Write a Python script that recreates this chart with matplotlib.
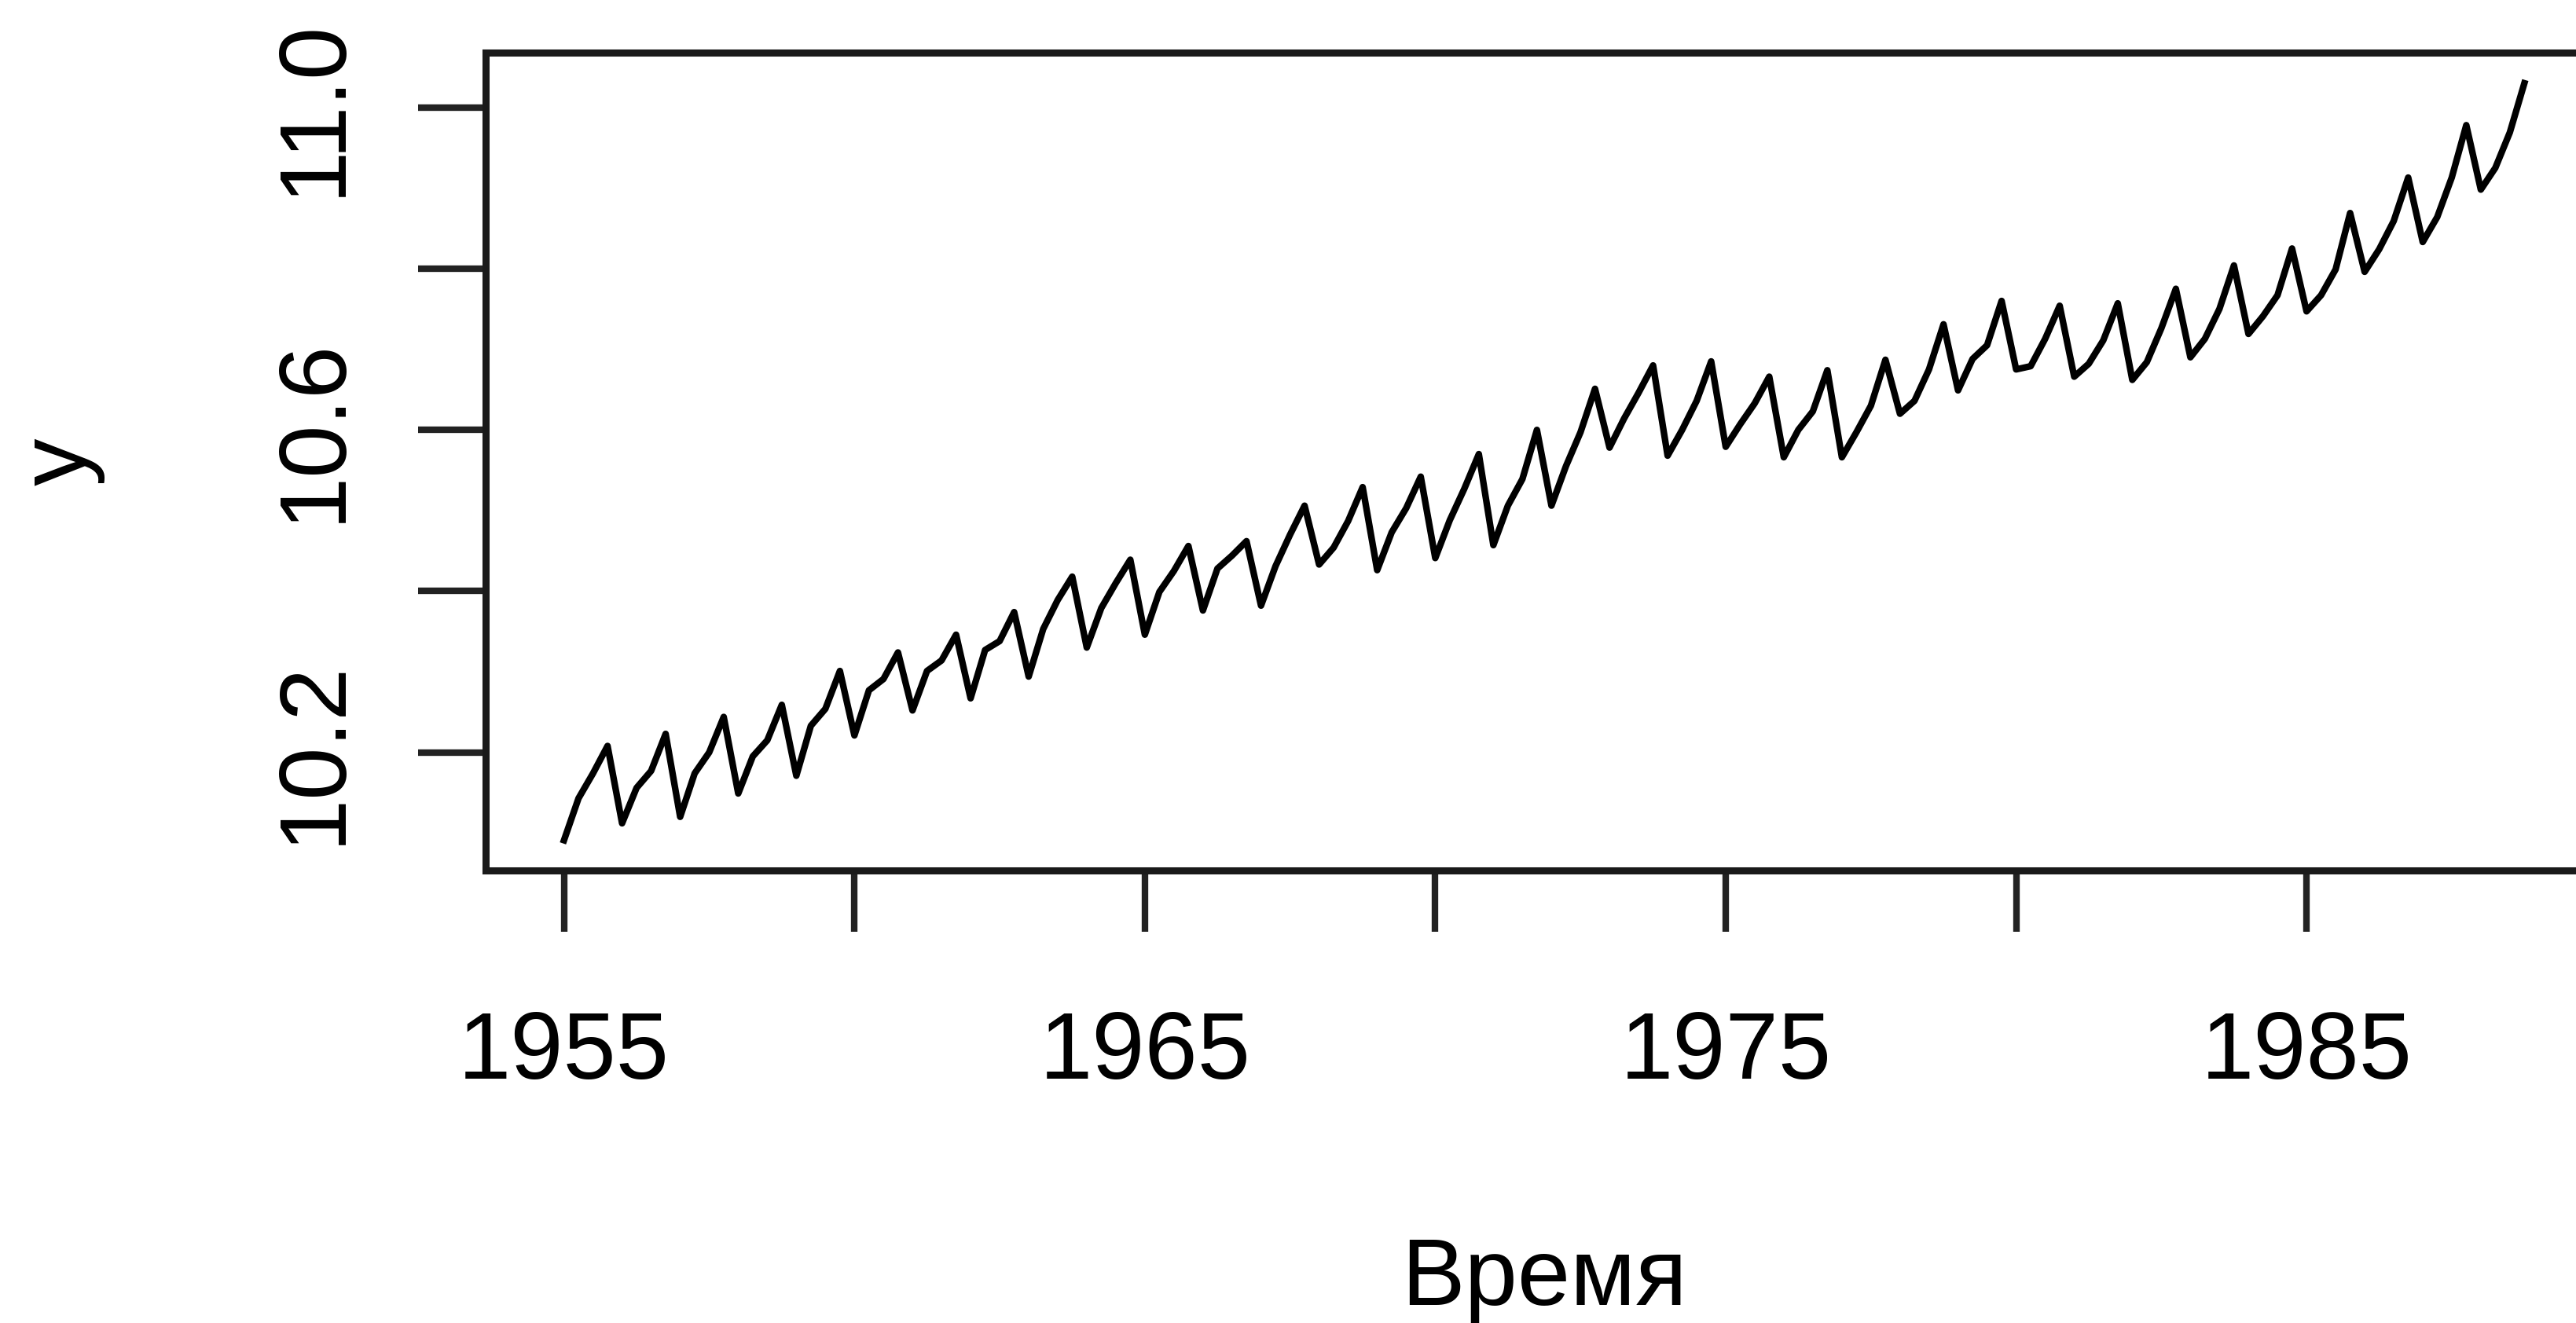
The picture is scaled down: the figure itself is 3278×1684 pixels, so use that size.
# Квартальный ряд y (лог.), 1955-1988, в стиле графика R plot(ts)
import numpy as np
import matplotlib
matplotlib.use("Agg")
import matplotlib.pyplot as plt

plt.rcParams['font.family'] = ['Liberation Sans', 'DejaVu Sans']

start_year = 1955
quarters_per_year = 4

# значения по кварталам, одна строка = один год (Q1..Q4)
y_values = [
    10.091, 10.143, 10.174, 10.208,  # 1955
    10.112, 10.156, 10.177, 10.223,  # 1956
    10.120, 10.174, 10.200, 10.244,  # 1957
    10.149, 10.195, 10.215, 10.259,  # 1958
    10.171, 10.233, 10.254, 10.301,  # 1959
    10.221, 10.277, 10.291, 10.324,  # 1960
    10.252, 10.301, 10.314, 10.346,  # 1961
    10.267, 10.327, 10.338, 10.374,  # 1962
    10.294, 10.353, 10.389, 10.418,  # 1963
    10.330, 10.379, 10.410, 10.439,  # 1964
    10.346, 10.399, 10.425, 10.456,  # 1965
    10.376, 10.428, 10.444, 10.462,  # 1966
    10.382, 10.431, 10.470, 10.506,  # 1967
    10.433, 10.454, 10.487, 10.529,  # 1968
    10.426, 10.473, 10.503, 10.542,  # 1969
    10.441, 10.488, 10.527, 10.570,  # 1970
    10.457, 10.506, 10.539, 10.600,  # 1971
    10.506, 10.555, 10.597, 10.651,  # 1972
    10.578, 10.614, 10.646, 10.680,  # 1973
    10.568, 10.600, 10.636, 10.685,  # 1974
    10.579, 10.607, 10.633, 10.666,  # 1975
    10.566, 10.600, 10.623, 10.674,  # 1976
    10.566, 10.597, 10.630, 10.687,  # 1977
    10.620, 10.636, 10.675, 10.731,  # 1978
    10.649, 10.688, 10.705, 10.760,  # 1979
    10.675, 10.679, 10.713, 10.754,  # 1980
    10.666, 10.682, 10.711, 10.757,  # 1981
    10.662, 10.684, 10.726, 10.775,  # 1982
    10.690, 10.713, 10.750, 10.804,  # 1983
    10.719, 10.741, 10.767, 10.825,  # 1984
    10.747, 10.767, 10.799, 10.869,  # 1985
    10.796, 10.824, 10.859, 10.913,  # 1986
    10.833, 10.864, 10.913, 10.978,  # 1987
    10.898, 10.925, 10.969, 11.030,  # 1988
]

x_ticks = [1955, 1960, 1965, 1970, 1975, 1980, 1985, 1990]
x_tick_labels = ['1955', '', '1965', '', '1975', '', '1985', '']
y_ticks = [10.2, 10.4, 10.6, 10.8, 11.0]
y_tick_labels = ['10.2', '', '10.6', '', '11.0']

y = np.array(y_values)
t = start_year + np.arange(len(y)) / quarters_per_year

fig = plt.figure(figsize=(32.78, 16.84), dpi=100)
ax = fig.add_axes([0.1885, 0.342, 0.8219, 0.618])  # правая рамка уходит за край, как в оригинале

ax.plot(t, y, color='black', lw=6)

# пределы как в R: +-4% от диапазона данных
dx = (t.max() - t.min()) * 0.04
dy = (y.max() - y.min()) * 0.04
ax.set_xlim(t.min() - dx, t.max() + dx)
ax.set_ylim(y.min() - dy, y.max() + dy)

ax.set_xticks(x_ticks)
ax.set_xticklabels(x_tick_labels)
ax.set_yticks(y_ticks)
ax.set_yticklabels(y_tick_labels)

ax.tick_params(axis='both', labelsize=87, width=6, color='#222222', direction='out')
ax.tick_params(axis='x', length=56, pad=72)
ax.tick_params(axis='y', length=62, pad=54)
for lbl in ax.get_yticklabels():
    lbl.set_rotation(90)
    lbl.set_va('center')

for sp in ax.spines.values():
    sp.set_linewidth(6.5)
    sp.set_color('#1a1a1a')

ax.set_xlabel('Время', fontsize=87)
ax.xaxis.set_label_coords(0.5, -0.4478)
ax.set_ylabel('y', fontsize=87)
ax.yaxis.set_label_coords(-0.1797, 0.5)

fig.savefig('out.png', dpi=100)
